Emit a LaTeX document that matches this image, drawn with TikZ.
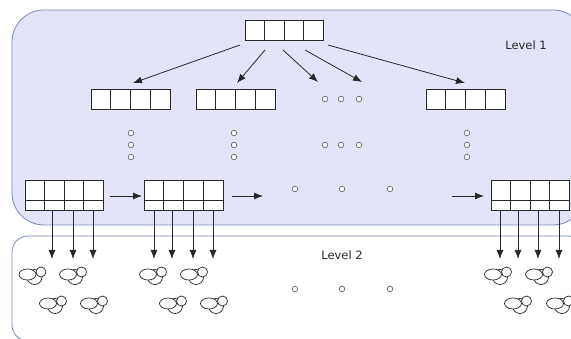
\documentclass[tikz,border=0pt]{standalone}
\usepackage{fontspec}
\setmainfont{DejaVu Sans}
\usetikzlibrary{arrows.meta}

\definecolor{lvfill}{RGB}{228,228,249}
\definecolor{lvedge}{RGB}{122,140,182}
\definecolor{ink}{RGB}{40,40,40}
\definecolor{dotc}{RGB}{90,90,90}

\tikzset{
  region/.style={draw=lvedge, line width=0.8pt},
  cells4/.style={draw=ink, fill=white, line width=0.8pt, inner sep=0pt, outer sep=0pt,
    minimum width=78pt, minimum height=20pt, anchor=north west,
    path picture={
      \foreach \k in {1,2,3}
        \draw[ink, line width=0.8pt]
          ($(path picture bounding box.north west)!\k/4!(path picture bounding box.north east)$) --
          ($(path picture bounding box.south west)!\k/4!(path picture bounding box.south east)$);
    }},
  cells42/.style={cells4, minimum height=30pt,
    append after command={}},
  arr/.style={draw=ink, line width=0.8pt, -{Latex[length=9pt,width=7pt]}},
  dot/.style={draw=dotc, fill=white, line width=0.6pt},
  glyph/.style={draw=ink, fill=white, line width=0.7pt},
  lbl/.style={text=ink, font=\fontsize{11.5}{13}\selectfont, inner sep=0pt},
  cluster/.pic={
    \draw[glyph] (2,1) circle[radius=7.5];
    \draw[glyph] (-5,-1.5) ellipse[x radius=8.5, y radius=5.5];
    \draw[glyph] (8.5,-4) circle[radius=5];
  }
}
\usetikzlibrary{calc}

\begin{document}
\begin{tikzpicture}[x=1pt, y=-1pt]
\clip (0,0) rectangle (571,339);
\useasboundingbox (0,0) rectangle (571,339);

% the two levels
\draw[region, fill=lvfill, rounded corners=32pt] (12,10) rectangle (585,225);
\draw[region, fill=white, rounded corners=16pt] (12,236) rectangle (585,341);
\node[lbl] (lv1) at (526,45) {Level 1};
\node[lbl] (lv2) at (342,255) {Level 2};

% root and second row of arrays
\node[cells4] (root) at (245,20) {};
\node[cells4, minimum width=79pt] (na) at (91,89) {};
\node[cells4, minimum width=79pt] (nb) at (196,89) {};
\node[cells4, minimum width=79pt] (nd) at (426,89) {};

% arrays at the bottom of level 1 (two rows each)
\foreach \nm/\x/\w in {la/25/78, lb/144/79, lc/491/78}{
  \node[cells4, minimum width=\w pt, minimum height=30pt] (\nm) at (\x,180) {};
  \draw[ink, line width=0.8pt] ($(\nm.north west)+(0,20)$) -- ($(\nm.north east)+(0,20)$);
}

% arrows from the root
\coordinate (s1) at (240,45);  \coordinate (e1) at (133,83);
\coordinate (s2) at (265,50);  \coordinate (e2) at (237,83);
\coordinate (s3) at (283,50);  \coordinate (e3) at (318,82);
\coordinate (s4) at (305,50);  \coordinate (e4) at (362,82);
\coordinate (s5) at (328,45);  \coordinate (e5) at (465,83);
\foreach \i in {1,...,5} \draw[arr] (s\i) -- (e\i);

% elided entries
\foreach \x in {325,341,359} {
  \draw[dot] (\x,99) circle[radius=2.8];
  \draw[dot] (\x,145) circle[radius=2.8];
}
\foreach \x in {131,234,467}
  \foreach \y in {133,145,157}
    \draw[dot] (\x,\y) circle[radius=2.8];
\foreach \x in {295,342,390} {
  \draw[dot] (\x,189) circle[radius=2.8];
  \draw[dot] (\x,289) circle[radius=2.8];
}

% links along the bottom row
\coordinate (hx) at (263,196);
\coordinate (hy) at (452,196);
\draw[arr] (110,196) -- (142,196);
\draw[arr] (232,196) -- (hx);
\draw[arr] (hy) -- (484,196);

% arrows down into level 2
\foreach \dx in {-12,9,29} \draw[arr] ([xshift=\dx pt]la.south) -- ++(0,49);
\foreach \dx in {-29.5,-11.5,9.5,29.5} \draw[arr] ([xshift=\dx pt]lb.south) -- ++(0,49);
\foreach \dx in {-30,-12,8,29} \draw[arr] ([xshift=\dx pt]lc.south) -- ++(0,49);

% clusters in level 2
\foreach \x/\y in {32.5/276, 73/276, 53/305, 94/305,
                   153/276, 194/276, 173/305, 214/305,
                   498/276, 539/276, 518/305, 560/305}
  \pic at (\x,\y) {cluster};
\end{tikzpicture}
\end{document}
